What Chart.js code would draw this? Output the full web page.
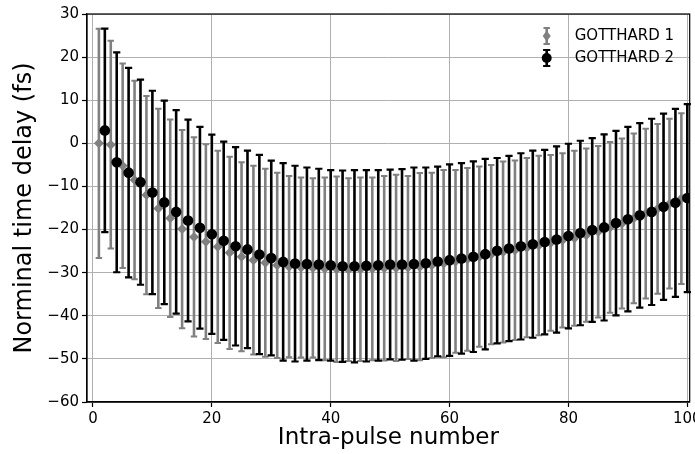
<!DOCTYPE html>
<html>
<head>
<meta charset="utf-8">
<script src="https://cdn.jsdelivr.net/npm/chart.js@4/dist/chart.umd.min.js"></script>
<style>
  html, body { margin: 0; padding: 0; background: #fff; }
</style>
</head>
<body>
<canvas id="chart" width="695" height="454"></canvas>
<script>
// GOTTHARD 1: 奇数番目のパルス
const g1X = [1, 3, 5, 7, 9, 11, 13, 15, 17, 19, 21, 23, 25, 27, 29, 31, 33, 35, 37, 39,
  41, 43, 45, 47, 49, 51, 53, 55, 57, 59, 61, 63, 65, 67, 69, 71, 73, 75, 77, 79,
  81, 83, 85, 87, 89, 91, 93, 95, 97, 99];
const g1Delay = [0.0, -0.3, -5.2, -8.5, -12.0, -15.1, -17.4, -19.9, -21.7, -22.8,
  -24.0, -25.4, -26.3, -27.1, -27.7, -28.3, -28.6, -28.8, -28.9, -29.1,
  -29.2, -29.3, -29.2, -29.1, -29.0, -28.9, -28.8, -28.6, -28.3, -27.9,
  -27.4, -26.9, -26.3, -25.8, -25.2, -24.8, -24.2, -23.7, -23.1, -22.5,
  -22.0, -21.3, -20.5, -19.5, -18.6, -17.4, -16.3, -15.2, -14.0, -12.8];
const g1Err = [26.6, 24.1, 23.7, 23.0, 23.0, 23.1, 22.9, 23.0, 23.1, 22.6,
  22.3, 22.3, 21.9, 21.9, 21.8, 21.5, 21.0, 20.9, 20.8, 21.2,
  21.5, 21.2, 21.3, 21.2, 21.4, 21.6, 21.2, 21.7, 21.5, 21.7,
  21.2, 21.2, 20.9, 20.8, 21.0, 20.8, 20.8, 20.8, 20.4, 20.2,
  20.3, 20.1, 19.9, 19.8, 19.7, 19.7, 19.7, 19.7, 19.7, 19.8];

// GOTTHARD 2: 偶数番目のパルス
const g2X = [2, 4, 6, 8, 10, 12, 14, 16, 18, 20, 22, 24, 26, 28, 30, 32, 34, 36, 38, 40,
  42, 44, 46, 48, 50, 52, 54, 56, 58, 60, 62, 64, 66, 68, 70, 72, 74, 76, 78, 80,
  82, 84, 86, 88, 90, 92, 94, 96, 98, 100];
const g2Delay = [3.0, -4.4, -6.8, -9.0, -11.4, -13.7, -15.9, -17.9, -19.6, -21.1,
  -22.6, -23.9, -24.6, -25.8, -26.6, -27.5, -27.9, -28.0, -28.1, -28.3,
  -28.5, -28.5, -28.4, -28.3, -28.1, -28.1, -28.0, -27.8, -27.4, -27.1,
  -26.7, -26.3, -25.7, -24.9, -24.4, -23.9, -23.4, -22.9, -22.3, -21.5,
  -20.8, -20.1, -19.5, -18.5, -17.6, -16.7, -15.9, -14.7, -13.8, -12.7];
const g2Err = [23.6, 25.5, 24.3, 23.8, 23.6, 23.6, 23.6, 23.4, 23.4, 23.1,
  23.0, 23.0, 22.9, 23.1, 22.6, 22.9, 22.7, 22.4, 22.2, 22.1,
  22.2, 22.3, 22.2, 22.1, 22.0, 22.1, 22.4, 22.2, 22.0, 22.2,
  22.1, 22.1, 22.1, 21.5, 21.5, 21.6, 21.7, 21.4, 21.6, 21.4,
  21.4, 21.3, 21.6, 21.4, 21.4, 21.4, 21.6, 21.6, 21.8, 21.8];

const xTicks = [0, 20, 40, 60, 80, 100];
const yTicks = [-60, -50, -40, -30, -20, -10, 0, 10, 20, 30];

const FONT = "'DejaVu Sans', sans-serif";
const GRAY = '#808080';

const toPoints = (xs, ys, errs) => xs.map((x, i) => ({ x, y: ys[i], err: errs[i] }));
const fmtTick = v => (v < 0 ? '\u2212' + Math.abs(v) : String(v));

// マーカーを描く（凡例用）
function drawMarker(ctx, style, color, x, y) {
  ctx.fillStyle = color;
  ctx.beginPath();
  if (style === 'rectRot') {
    ctx.moveTo(x, y - 5.5);
    ctx.lineTo(x + 4, y);
    ctx.lineTo(x, y + 5.5);
    ctx.lineTo(x - 4, y);
    ctx.closePath();
  } else {
    ctx.arc(x, y, 5, 0, Math.PI * 2);
  }
  ctx.fill();
}

// 縦線とキャップを描く
function drawBar(ctx, ds, px, top, bottom) {
  ctx.strokeStyle = ds.barColor;
  ctx.lineWidth = ds.barWidth;
  ctx.beginPath();
  ctx.moveTo(px, top);
  ctx.lineTo(px, bottom);
  ctx.stroke();
  ctx.lineWidth = ds.capThickness;
  ctx.beginPath();
  ctx.moveTo(px - ds.capHalf, top);
  ctx.lineTo(px + ds.capHalf, top);
  ctx.moveTo(px - ds.capHalf, bottom);
  ctx.lineTo(px + ds.capHalf, bottom);
  ctx.stroke();
}

// エラーバーはデータセットの点の直前に描画する
const errorBarPlugin = {
  id: 'errorBars',
  beforeDatasetDraw(chart, args) {
    const ds = chart.data.datasets[args.index];
    const { ctx, scales: { x, y } } = chart;
    ctx.save();
    ds.data.forEach(p => {
      const px = x.getPixelForValue(p.x);
      drawBar(ctx, ds, px, y.getPixelForValue(p.y + p.err), y.getPixelForValue(p.y - p.err));
    });
    ctx.restore();
  }
};

// 枠線と凡例
const framePlugin = {
  id: 'frameAndLegend',
  afterDraw(chart) {
    const { ctx, chartArea: a } = chart;
    ctx.save();
    ctx.strokeStyle = '#000';
    ctx.lineWidth = 1.2;
    ctx.strokeRect(a.left, a.top, a.right - a.left, a.bottom - a.top);

    const iconX = a.right - 143;
    const textX = a.right - 115;
    chart.data.datasets.forEach((ds, i) => {
      const cy = a.top + 22 + i * 22;
      drawBar(ctx, ds, iconX, cy - 8, cy + 8);
      drawMarker(ctx, ds.pointStyle, ds.backgroundColor, iconX, cy);
      ctx.fillStyle = '#000';
      ctx.font = '15px ' + FONT;
      ctx.textBaseline = 'middle';
      ctx.textAlign = 'left';
      ctx.fillText(ds.label, textX, cy);
    });
    ctx.restore();
  }
};

const config = {
  type: 'scatter',
  data: {
    datasets: [
      {
        label: 'GOTTHARD 1',
        data: toPoints(g1X, g1Delay, g1Err),
        pointStyle: 'rectRot',
        pointRadius: 5,
        backgroundColor: GRAY,
        borderColor: GRAY,
        borderWidth: 0,
        barColor: GRAY,
        barWidth: 2.6,
        capThickness: 2,
        capHalf: 3.2,
        order: 2
      },
      {
        label: 'GOTTHARD 2',
        data: toPoints(g2X, g2Delay, g2Err),
        pointStyle: 'circle',
        pointRadius: 5.3,
        backgroundColor: '#000',
        borderColor: '#000',
        borderWidth: 0,
        barColor: '#000',
        barWidth: 2.6,
        capThickness: 2.2,
        capHalf: 3.6,
        order: 1
      }
    ]
  },
  options: {
    responsive: false,
    animation: false,
    devicePixelRatio: 1,
    layout: { padding: { top: 14, right: 5, left: 0, bottom: 0 } },
    plugins: {
      legend: { display: false },
      tooltip: { enabled: false }
    },
    scales: {
      x: {
        type: 'linear',
        min: -1,
        max: 100.4,
        afterBuildTicks: s => { s.ticks = xTicks.map(v => ({ value: v })); },
        afterFit: s => { s.height = 52; s.paddingLeft = 0; s.paddingRight = 0; },
        grid: { color: '#b0b0b0', lineWidth: 1, tickColor: '#000', tickLength: 5, tickWidth: 1.2 },
        border: { color: '#000', width: 1.2 },
        ticks: {
          color: '#000',
          font: { family: FONT, size: 15 },
          padding: 3,
          maxRotation: 0,
          autoSkip: false,
          callback: v => fmtTick(v)
        },
        title: {
          display: true,
          text: 'Intra-pulse number',
          color: '#000',
          font: { family: FONT, size: 23 },
          padding: { top: 0, bottom: 2 }
        }
      },
      y: {
        type: 'linear',
        min: -60,
        max: 30,
        afterBuildTicks: s => { s.ticks = yTicks.map(v => ({ value: v })); },
        afterFit: s => { s.width = 87; s.paddingTop = 0; s.paddingBottom = 0; },
        grid: { color: '#b0b0b0', lineWidth: 1, tickColor: '#000', tickLength: 5, tickWidth: 1.2 },
        border: { color: '#000', width: 1.2 },
        ticks: {
          color: '#000',
          font: { family: FONT, size: 15 },
          padding: 3,
          autoSkip: false,
          callback: v => fmtTick(v)
        },
        title: {
          display: true,
          text: 'Norminal time delay (fs)',
          color: '#000',
          font: { family: FONT, size: 24 },
          padding: { top: 10, bottom: 0 }
        }
      }
    }
  },
  plugins: [errorBarPlugin, framePlugin]
};

new Chart(document.getElementById('chart'), config);
</script>
</body>
</html>
